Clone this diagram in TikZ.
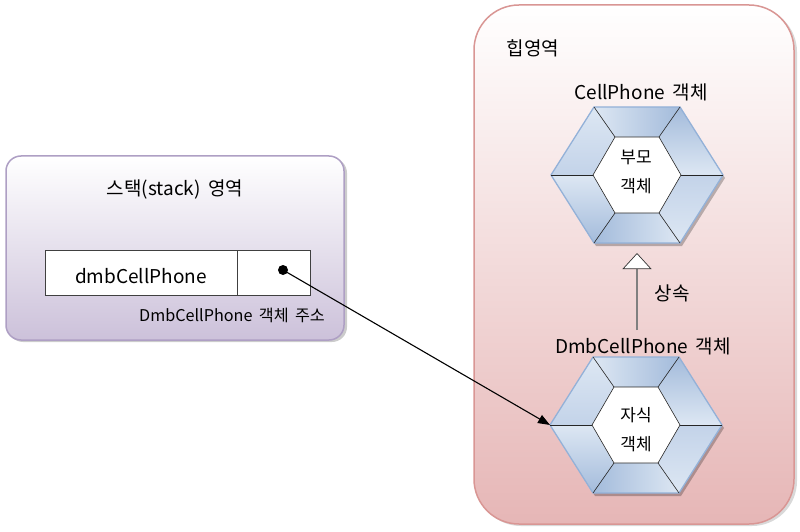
\documentclass[tikz,border=0pt]{standalone}
\usepackage{fontspec}
\setmainfont{Noto Sans CJK KR}
\usetikzlibrary{arrows.meta}
\definecolor{stackbot}{HTML}{CCC1DA}
\definecolor{stackline}{HTML}{AE9FC4}
\definecolor{heapbot}{HTML}{E6B6B6}
\definecolor{heapline}{HTML}{D99694}
\definecolor{hexD}{HTML}{A3BBDB}
\definecolor{hexM}{HTML}{C3D3E9}
\definecolor{hexL}{HTML}{DDE7F3}
\definecolor{hexline}{HTML}{93B1D8}
\tikzset{
  lbl/.style={font=\fontsize{19}{21}\selectfont, inner sep=0pt},
  smalllbl/.style={font=\fontsize{16.2}{18}\selectfont, inner sep=0pt},
  inlbl/.style={font=\fontsize{17}{19}\selectfont, inner sep=0pt},
  spoke/.style={draw=black!85, line width=0.6pt},
  cellbox/.style={draw=black!75, fill=white, line width=0.9pt},
  conn/.style={draw=black, line width=1.1pt, -{Triangle[length=12pt,width=9pt]}},
  inh/.style={draw=black!50, line width=1.6pt, -{Triangle[length=16pt,width=29pt,fill=white,color=black!80,line width=0.7pt]}}
}
\newcommand\myhex[2]{%
\begin{scope}[shift={#2}]
  \coordinate (#1-o0) at (86,0);   \coordinate (#1-o1) at (43,68);
  \coordinate (#1-o2) at (-43,68); \coordinate (#1-o3) at (-86,0);
  \coordinate (#1-o4) at (-43,-68);\coordinate (#1-o5) at (43,-68);
  \coordinate (#1-i0) at (44,0);   \coordinate (#1-i1) at (22,38);
  \coordinate (#1-i2) at (-22,38); \coordinate (#1-i3) at (-44,0);
  \coordinate (#1-i4) at (-22,-38);\coordinate (#1-i5) at (22,-38);
  \coordinate (#1-s) at (0,-68);
  \fill[black, opacity=0.25] ([shift={(2,-3)}]#1-o0) -- ([shift={(2,-3)}]#1-o1) -- ([shift={(2,-3)}]#1-o2) -- ([shift={(2,-3)}]#1-o3) -- ([shift={(2,-3)}]#1-o4) -- ([shift={(2,-3)}]#1-o5) -- cycle;
  \shade[left color=hexL, right color=hexD] (#1-o1) -- (#1-o2) -- (#1-i2) -- (#1-i1) -- cycle;
  \shade[top color=hexD, bottom color=hexL] (#1-o0) -- (#1-o1) -- (#1-i1) -- (#1-i0) -- cycle;
  \shade[top color=hexM, bottom color=hexL] (#1-o5) -- (#1-o0) -- (#1-i0) -- (#1-i5) -- cycle;
  \shade[left color=hexD, right color=hexL] (#1-o4) -- (#1-o5) -- (#1-i5) -- (#1-i4) -- cycle;
  \shade[top color=hexL, bottom color=hexD] (#1-o3) -- (#1-o4) -- (#1-i4) -- (#1-i3) -- cycle;
  \shade[top color=hexL, bottom color=hexM] (#1-o2) -- (#1-o3) -- (#1-i3) -- (#1-i2) -- cycle;
  \draw[hexline, line width=1.3pt, line join=round] (#1-o0) -- (#1-o1) -- (#1-o2) -- (#1-o3) -- (#1-o4) -- (#1-o5) -- cycle;
  \foreach \k in {0,...,5} {\draw[spoke] (#1-o\k) -- (#1-i\k);}
  \draw[spoke, fill=white] (#1-i0) -- (#1-i1) -- (#1-i2) -- (#1-i3) -- (#1-i4) -- (#1-i5) -- cycle;
\end{scope}}
\begin{document}
\begin{tikzpicture}[x=1pt,y=1pt]
\useasboundingbox (0,0) rectangle (800,531);
\fill[white] (0,0) rectangle (800,531);
% heap area
\fill[black, opacity=0.15, rounded corners=45pt] (476,5) rectangle (797,524);
\shade[top color=white, bottom color=heapbot, rounded corners=45pt] (474,7) rectangle (794,526);
\draw[heapline, line width=1.5pt, rounded corners=45pt] (474,7) rectangle (794,526);
% stack area
\fill[black, opacity=0.2, rounded corners=15pt] (8,189) rectangle (347,373);
\shade[top color=white, bottom color=stackbot, rounded corners=15pt] (6,191) rectangle (344,375);
\draw[stackline, line width=1.5pt, rounded corners=15pt] (6,191) rectangle (344,375);
% stack contents
\node[lbl] (stackT) at (175,341) {스택(stack)\, 영역};
\node[cellbox, minimum width=192pt, minimum height=45pt, inner sep=0pt] (var) at (141,258.5) {};
\node[lbl] (varT) at (141,255) {dmbCellPhone};
\node[cellbox, minimum width=73pt, minimum height=45pt, inner sep=0pt] (ref) at (273.5,258.5) {};
\node[circle, fill=black, minimum size=10pt, inner sep=0pt] (dot) at (283,261) {};
\node[smalllbl] (addr) at (232,216) {DmbCellPhone\, 객체\, 주소};
% heap contents
\node[lbl] (heapT) at (533,483) {힙영역};
\node[lbl] (lblA) at (641,439) {CellPhone\, 객체};
\myhex{hexA}{(637,356)}
\node[inlbl] (pa) at (636,374) {부모};
\node[inlbl] (pb) at (636,345) {객체};
\node[lbl] (lblB) at (643,185) {DmbCellPhone\, 객체};
\myhex{hexB}{(636,106)}
\node[inlbl] (ca) at (636,116) {자식};
\node[inlbl] (cb) at (636,87) {객체};
\node[lbl] (inhT) at (672,238) {상속};
% connectors
\draw[inh] ([yshift=7pt]lblB.north -| hexA-s) -- ([yshift=-10pt]hexA-s);
\draw[conn] (dot.center) -- (hexB-o3);
\end{tikzpicture}
\end{document}
